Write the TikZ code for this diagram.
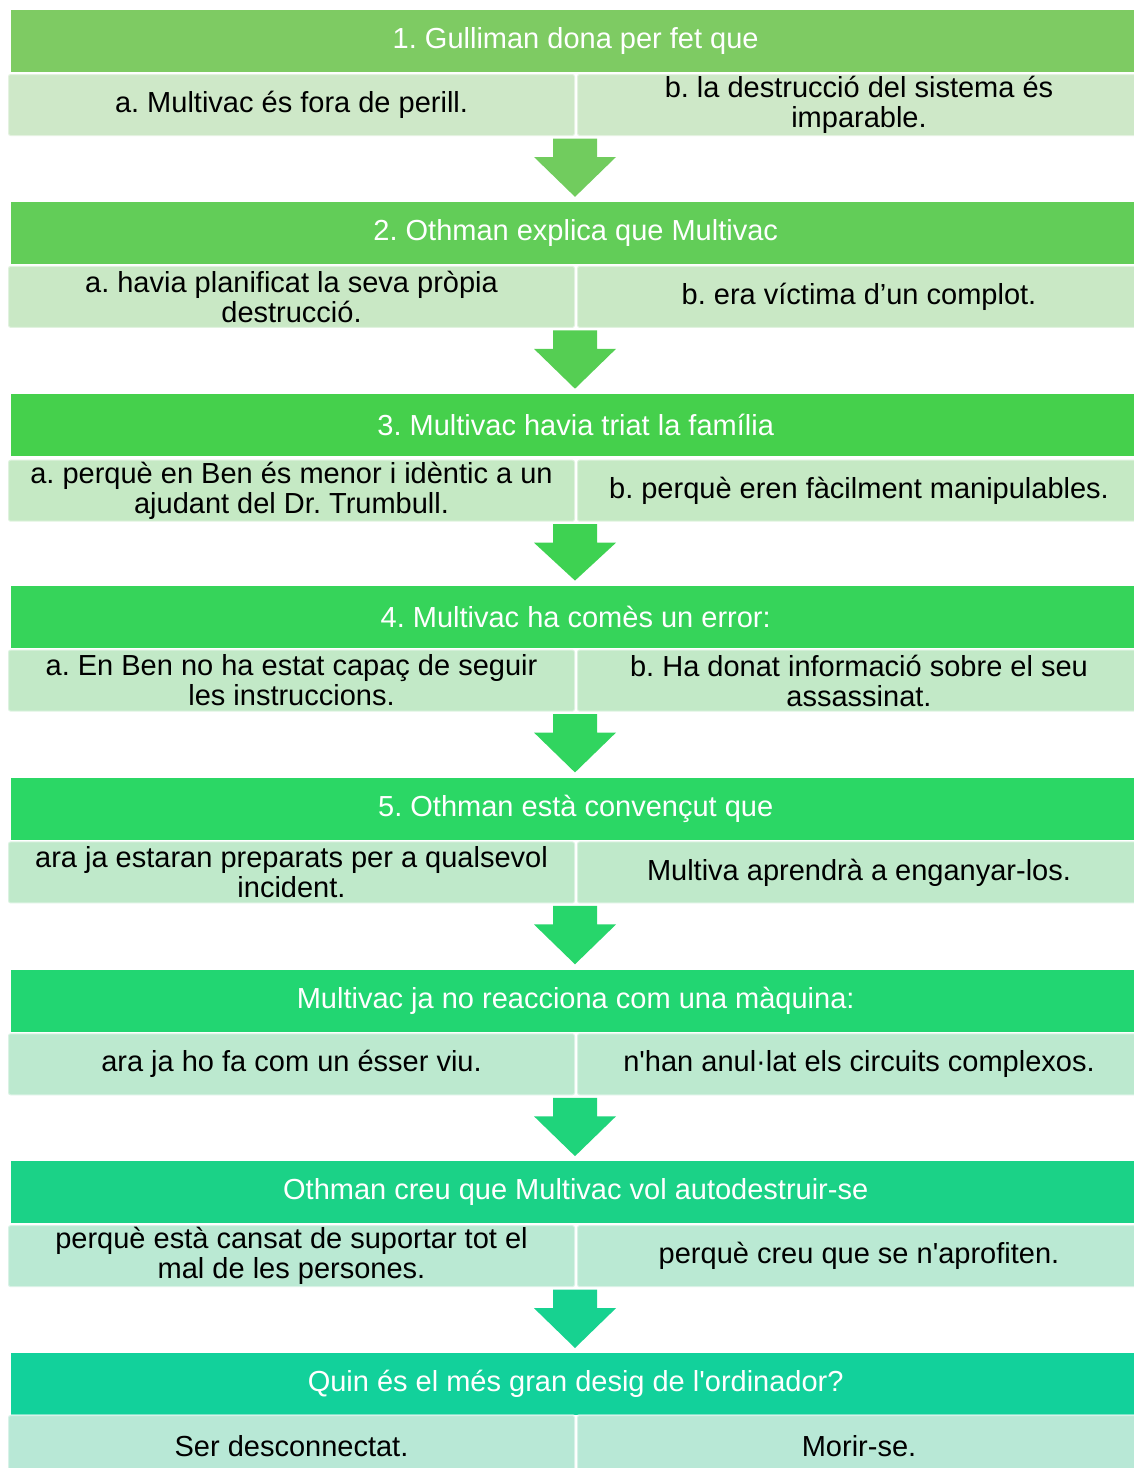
\documentclass[tikz,border=0pt]{standalone}
\usepackage{fontspec}
\setmainfont{Liberation Sans}
\usetikzlibrary{calc}
\definecolor{h1}{HTML}{7ECB63}
\definecolor{h2}{HTML}{62CD58}
\definecolor{h3}{HTML}{45D04C}
\definecolor{h4}{HTML}{36D45A}
\definecolor{h5}{HTML}{2BD765}
\definecolor{h6}{HTML}{22D672}
\definecolor{h7}{HTML}{1BD287}
\definecolor{h8}{HTML}{12D19B}
\definecolor{s1}{HTML}{CEE8C8}
\definecolor{s2}{HTML}{C9E8C5}
\definecolor{s3}{HTML}{C5E9C4}
\definecolor{s4}{HTML}{C2E9C7}
\definecolor{s5}{HTML}{BFE9CA}
\definecolor{s6}{HTML}{BCE9CF}
\definecolor{s7}{HTML}{BAE9D3}
\definecolor{s8}{HTML}{B8E8D6}
\newcommand{\sq}{\textquotesingle}
\tikzset{
  basefont/.style={font=\fontsize{29}{30}\selectfont\frenchspacing},
  hdr/.style={basefont, anchor=north west, minimum width=1129pt, minimum height=62pt,
    inner sep=0pt, text=white, align=center},
  subL/.style={basefont, anchor=north west, minimum width=567pt, minimum height=62pt,
    inner sep=0pt, text=black, align=center, draw=white, draw opacity=0.45,
    line width=2pt, rounded corners=2.5pt},
  subR/.style={subL, minimum width=564pt}
}
\newcommand{\flowarrow}[3]{%
  \fill[#3] let \p1=(#1.south), \p2=(#2.north) in
    (553pt,\y1-1.5pt) -- (597pt,\y1-1.5pt) -- (597pt,\y1-20pt) -- (616pt,\y1-20pt)
    -- (575pt,\y2+5pt) -- (534pt,\y1-20pt) -- (553pt,\y1-20pt) -- cycle;}
\begin{document}
\begin{tikzpicture}[x=1pt,y=-1pt]
\useasboundingbox (0,0) rectangle (1134,1468);
\clip (0,0) rectangle (1134,1468);
\path (11,10) coordinate (T1) (11,201.86) coordinate (T2) (11,393.71) coordinate (T3)
      (11,585.57) coordinate (T4) (11,777.43) coordinate (T5) (11,969.29) coordinate (T6)
      (11,1161.14) coordinate (T7) (11,1353) coordinate (T8);
\node[hdr, fill=h1] (H1) at (T1) {1. Gulliman dona per fet que};
\node[hdr, fill=h2] (H2) at (T2) {2. Othman explica que Multivac};
\node[hdr, fill=h3] (H3) at (T3) {3. Multivac havia triat la família};
\node[hdr, fill=h4] (H4) at (T4) {4. Multivac ha comès un error:};
\node[hdr, fill=h5] (H5) at (T5) {5. Othman està convençut que};
\node[hdr, fill=h6] (H6) at (T6) {Multivac ja no reacciona com una màquina:};
\node[hdr, fill=h7] (H7) at (T7) {Othman creu que Multivac vol autodestruir-se};
\node[hdr, fill=h8] (H8) at (T8) {Quin és el més gran desig de l\sq ordinador?};
% sub-boxes
\node[subL, fill=s1] (L1) at ($(H1.north west)+(-4,63)$) {a. Multivac és fora de perill.};
\node[subR, fill=s1] (R1) at ($(H1.north west)+(565,63)$) {b. la destrucció del sistema és\\imparable.};
\node[subL, fill=s2] (L2) at ($(H2.north west)+(-4,63)$) {a. havia planificat la seva pròpia\\destrucció.};
\node[subR, fill=s2] (R2) at ($(H2.north west)+(565,63)$) {b. era víctima d’un complot.};
\node[subL, fill=s3] (L3) at ($(H3.north west)+(-4,65)$) {a. perquè en Ben és menor i idèntic a un\\ajudant del Dr. Trumbull.};
\node[subR, fill=s3] (R3) at ($(H3.north west)+(565,65)$) {b. perquè eren fàcilment manipulables.};
\node[subL, fill=s4] (L4) at ($(H4.north west)+(-4,63)$) {a. En Ben no ha estat capaç de seguir\\les instruccions.};
\node[subR, fill=s4] (R4) at ($(H4.north west)+(565,63)$) {b. Ha donat informació sobre el seu\\assassinat.};
\node[subL, fill=s5] (L5) at ($(H5.north west)+(-4,63)$) {ara ja estaran preparats per a qualsevol\\incident.};
\node[subR, fill=s5] (R5) at ($(H5.north west)+(565,63)$) {Multiva aprendrà a enganyar-los.};
\node[subL, fill=s6] (L6) at ($(H6.north west)+(-4,63)$) {ara ja ho fa com un ésser viu.};
\node[subR, fill=s6] (R6) at ($(H6.north west)+(565,63)$) {n\sq han anul·lat els circuits complexos.};
\node[subL, fill=s7] (L7) at ($(H7.north west)+(-4,63)$) {perquè està cansat de suportar tot el\\mal de les persones.};
\node[subR, fill=s7] (R7) at ($(H7.north west)+(565,63)$) {perquè creu que se n\sq aprofiten.};
\node[subL, fill=s8] (L8) at ($(H8.north west)+(-4,61)$) {Ser desconnectat.};
\node[subR, fill=s8] (R8) at ($(H8.north west)+(565,61)$) {Morir-se.};
% block arrows from each block's sub-boxes to the next header
\flowarrow{L1}{H2}{h1!55!h2}
\flowarrow{L2}{H3}{h2!55!h3}
\flowarrow{L3}{H4}{h3!55!h4}
\flowarrow{L4}{H5}{h4!55!h5}
\flowarrow{L5}{H6}{h5!55!h6}
\flowarrow{L6}{H7}{h6!55!h7}
\flowarrow{L7}{H8}{h7!55!h8}
\end{tikzpicture}
\end{document}
